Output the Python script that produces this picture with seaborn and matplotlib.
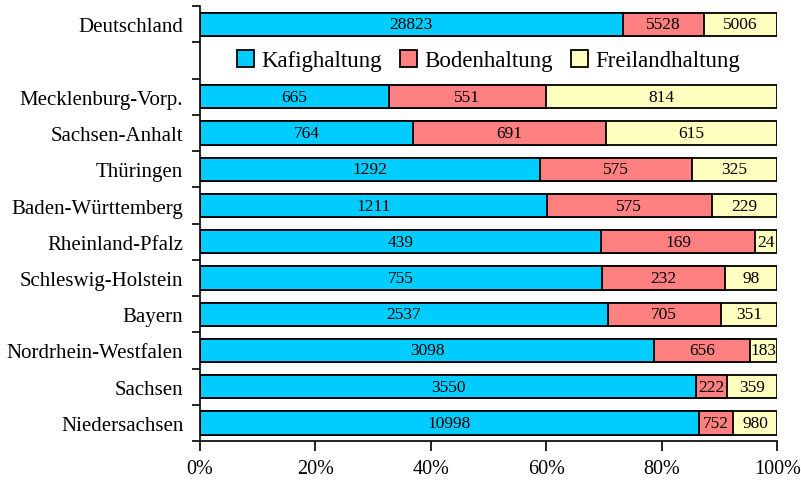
import numpy as np
import pandas as pd
import matplotlib
matplotlib.use("Agg")
import matplotlib.pyplot as plt
import seaborn as sns
from matplotlib.patches import Patch
from matplotlib.ticker import FixedLocator, PercentFormatter

# ---------------- data ----------------
regions = ["Deutschland", "Mecklenburg-Vorp.", "Sachsen-Anhalt", "Thüringen",
           "Baden-Württemberg", "Rheinland-Pfalz", "Schleswig-Holstein",
           "Bayern", "Nordrhein-Westfalen", "Sachsen", "Niedersachsen"]
kafig = [28823, 665, 764, 1292, 1211, 439, 755, 2537, 3098, 3550, 10998]
boden = [5528, 551, 691, 575, 575, 169, 232, 705, 656, 222, 752]
freiland = [5006, 814, 615, 325, 229, 24, 98, 351, 183, 359, 980]
series_names = ["Kafighaltung", "Bodenhaltung", "Freilandhaltung"]
colors = ["#00CCFF", "#FF8080", "#FFFFC0"]

# empty slot under Deutschland holds the legend
order = [regions[0], " "] + regions[1:]

df = pd.DataFrame({"region": regions, "k": kafig, "b": boden, "f": freiland})
total = df[["k", "b", "f"]].sum(axis=1)
df["p_k"] = df["k"] / total * 100
df["p_b"] = df["b"] / total * 100
df["p_f"] = df["f"] / total * 100
df["c1"] = df["p_k"]
df["c2"] = df["p_k"] + df["p_b"]
df["c3"] = df["c2"] + df["p_f"]

sns.set_theme(style="white")
plt.rcParams["font.family"] = ["Liberation Serif", "DejaVu Serif"]
plt.rcParams["text.color"] = "black"

fig = plt.figure(figsize=(8.01, 4.81), dpi=100)
ax = fig.add_axes([0.2497, 0.081, 0.7206, 0.904])

# stacked by overlaying cumulative bars
for col, c in zip(["c3", "c2", "c1"], colors[::-1]):
    sns.barplot(data=df, y="region", x=col, order=order, orient="h",
                color=c, edgecolor="black", linewidth=1.3, width=0.64,
                saturation=1, ax=ax)

# value labels
ypos = {r: i for i, r in enumerate(order)}
for _, row in df.iterrows():
    y = ypos[row["region"]]
    starts = [0, row["c1"], row["c2"]]
    widths = [row["p_k"], row["p_b"], row["p_f"]]
    vals = [row["k"], row["b"], row["f"]]
    for s, w, v in zip(starts, widths, vals):
        ax.text(s + w / 2, y, f"{v}", ha="center", va="center",
                fontsize=12.5, color="black")

ax.set_xlim(0, 100)
ax.set_ylim(len(order) - 0.5, -0.5)
ax.xaxis.set_major_formatter(PercentFormatter(decimals=0))
ax.set_xticks(np.arange(0, 101, 20))
ax.set_xlabel("")
ax.set_ylabel("")

for s in ["top", "right"]:
    ax.spines[s].set_visible(False)
for s in ["left", "bottom"]:
    ax.spines[s].set_color("black")
    ax.spines[s].set_linewidth(1.2)

ax.tick_params(axis="x", which="major", direction="out", length=7, width=1.2,
               color="black", labelcolor="black", labelsize=14.5, pad=6,
               bottom=True)
ax.tick_params(axis="y", which="major", length=0, labelsize=15,
               labelcolor="black", pad=12)
ax.yaxis.set_minor_locator(FixedLocator(np.arange(-0.5, len(order), 1)))
ax.tick_params(axis="y", which="minor", direction="out", length=6, width=1.2,
               color="black", left=True)
ax.grid(False)

handles = [Patch(facecolor=c, edgecolor="black", linewidth=1.3) for c in colors]
ax.legend(handles, series_names, loc="center", bbox_to_anchor=(0.5, 1 - 1.5 / 12),
          ncol=3, frameon=False, fontsize=16.5, handlelength=0.75, handleheight=0.75,
          handletextpad=0.3, columnspacing=0.8)

fig.savefig("out.png", dpi=100)
